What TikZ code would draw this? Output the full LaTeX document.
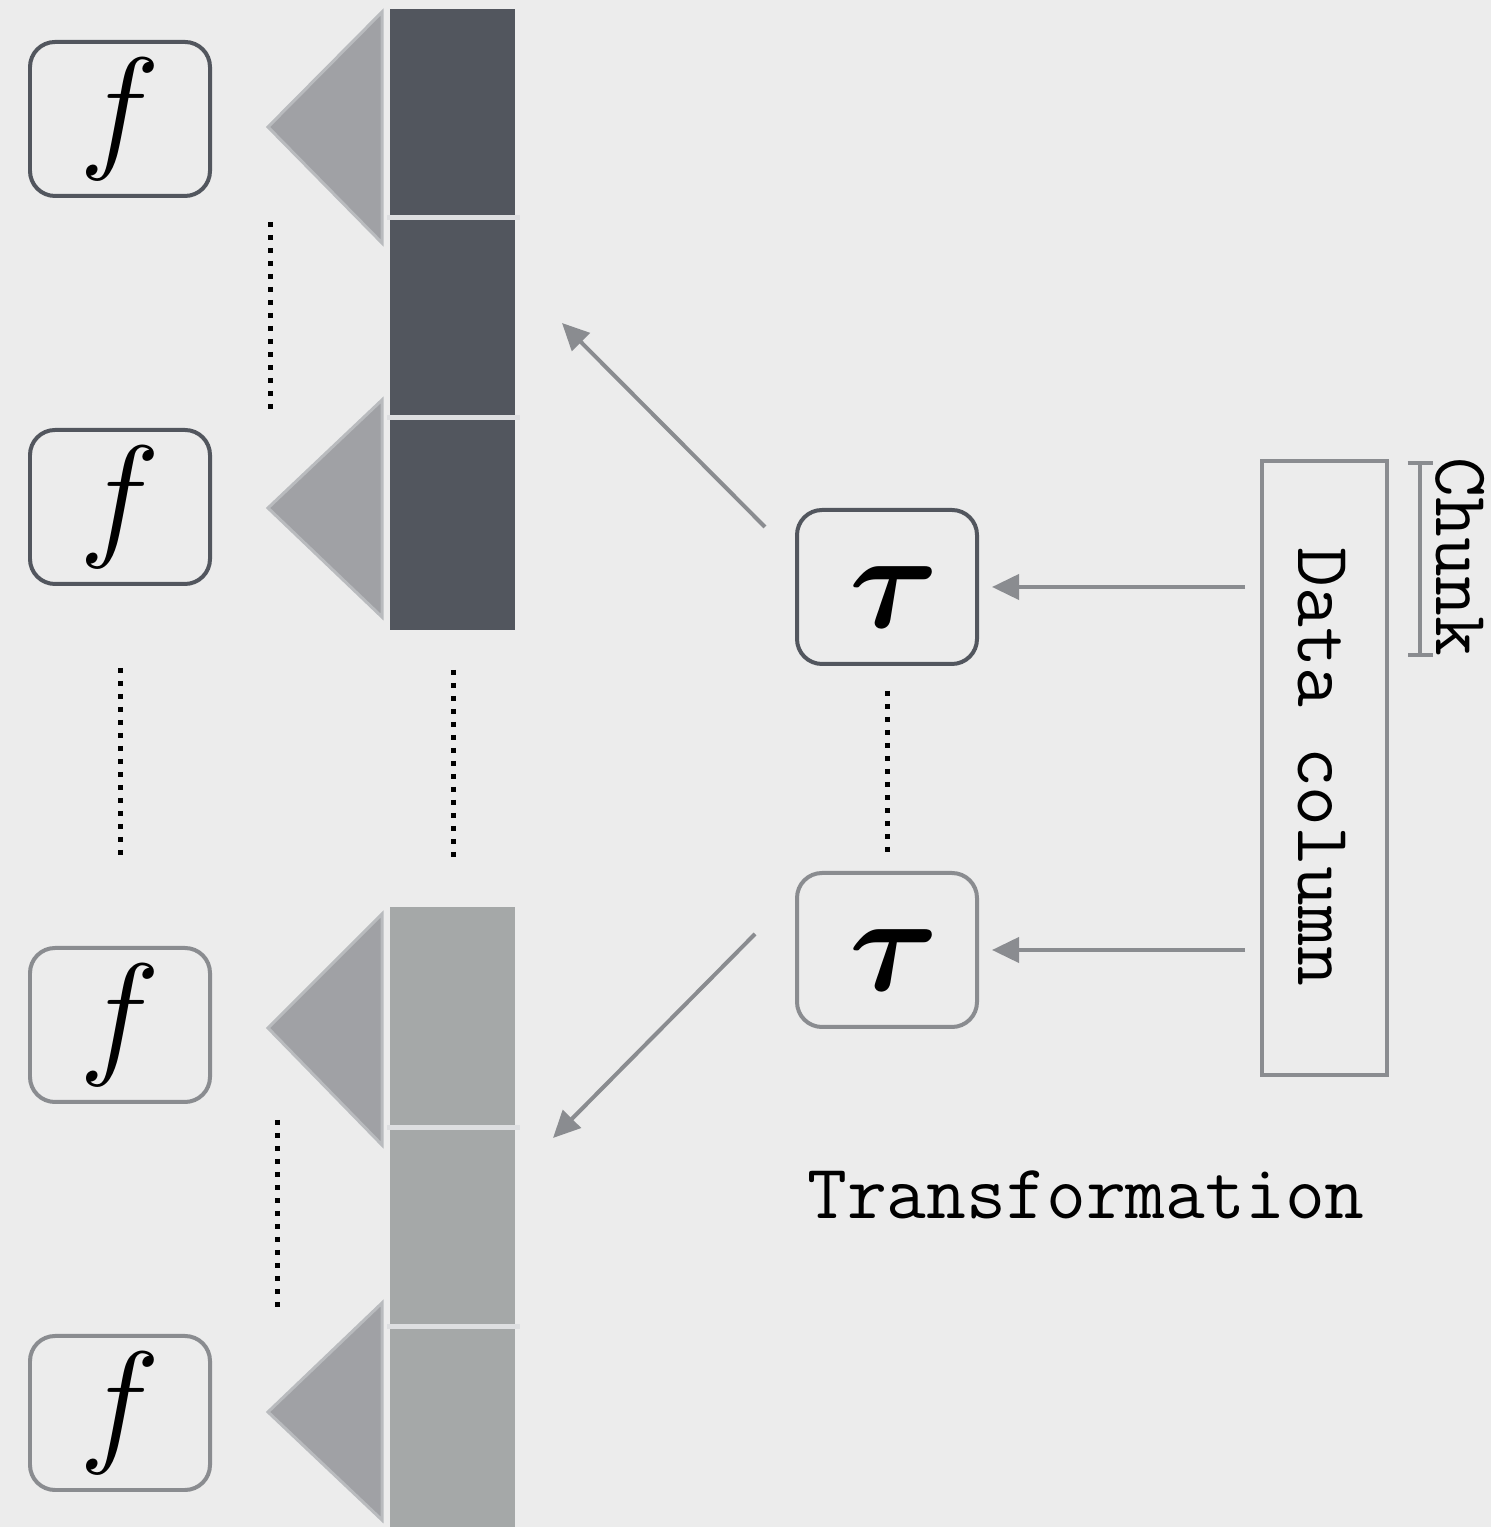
\RequirePackage{fix-cm}
\documentclass[tikz,border=0pt]{standalone}
\usepackage{amsmath}
\usepackage{amssymb}
\usepackage{bm}
\usepackage{xcolor}
\usepackage{tikz}
\usetikzlibrary{positioning, arrows.meta}

\definecolor{bgcol}{HTML}{ECECEC}
\definecolor{boxdark}{HTML}{52565E}
\definecolor{linegrey}{HTML}{8A8C90}
\definecolor{colgrey}{HTML}{A5A8A8}
\definecolor{trifill}{HTML}{A0A1A5}
\definecolor{triedge}{HTML}{B9BBBE}
\definecolor{seplight}{HTML}{DEDFE1}

\newcommand{\taulabel}{\hspace*{0.14cm}\raisebox{-0.1cm}[\height][0pt]{$\bm{\tau}$}}

\begin{document}
\begin{tikzpicture}[
    >={Triangle[length=0.27cm, width=0.25cm]}, line width=0.04cm, node distance=3.88cm, on grid,
    opbox/.style={rectangle, rounded corners=0.25cm, draw=boxdark, fill=bgcol, line width=0.04cm,
        minimum width=1.8cm, minimum height=1.54cm, inner sep=0pt, font=\fontsize{39}{41}\selectfont},
    faded/.style={draw=linegrey},
    flow/.style={->, draw=linegrey, line width=0.04cm},
    dotline/.style={draw=black, line width=0.05cm, dash pattern=on 0.05cm off 0.08cm},
    tri/.style={fill=trifill, draw=triedge, line width=0.03cm},
    sepline/.style={draw=seplight, line width=0.05cm},
    label text/.style={font=\fontsize{22}{24}\selectfont\ttfamily, inner sep=0pt}
]
    % canvas
    \fill[bgcol] (0,0) rectangle (14.91,15.27);
    \useasboundingbox (0,0) rectangle (14.91,15.27);

    % chunked columns
    \fill[boxdark] (3.90,15.18) rectangle (5.15,8.97);
    \fill[colgrey] (3.90,6.20) rectangle (5.15,0);
    \draw[sepline] (3.87,13.09) -- (5.20,13.09);
    \draw[sepline] (3.87,11.09) -- (5.20,11.09);
    \draw[sepline] (3.87,3.99) -- (5.20,3.99);
    \draw[sepline] (3.87,2.00) -- (5.20,2.00);

    % triangles
    \draw[tri] (2.68,14.00) -- (3.82,15.15) -- (3.82,12.84) -- cycle;
    \draw[tri] (2.68,10.19) -- (3.82,11.27) -- (3.82,9.10) -- cycle;
    \draw[tri] (2.68,4.99) -- (3.82,6.13) -- (3.82,3.82) -- cycle;
    \draw[tri] (2.68,1.15) -- (3.82,2.24) -- (3.82,0.07) -- cycle;

    % f boxes
    \node[opbox] (f1) at (1.20,14.08) {$f$};
    \node[opbox] (f2) [below=of f1] {$f$};
    \node[opbox, faded] (f3) [below=5.18cm of f2] {$f$};
    \node[opbox, faded] (f4) [below=of f3] {$f$};

    % tau boxes
    \node[opbox] (tau1) at (8.87,9.40) {\taulabel};
    \node[opbox, faded] (tau2) [below=3.63cm of tau1] {\taulabel};

    % data column and chunk
    \node[draw=linegrey, line width=0.04cm, minimum width=1.25cm, minimum height=6.14cm] (data) at (13.245,7.59) {};
    \node[label text, rotate=-90] (datalabel) at (13.22,7.60) {Data column};
    \draw[linegrey, line width=0.04cm, {Bar[width=0.25cm]}-{Bar[width=0.25cm]}] (14.20,10.66) -- (14.20,8.70);
    \node[label text, rotate=-90] (chunk) at (14.60,9.70) {Chunk};
    \node[label text] (trans) at (10.86,3.32) {Transformation};

    % dots
    \draw[dotline] (2.70,13.05) -- (2.70,11.12);
    \draw[dotline] (1.20,8.59) -- (1.20,6.65);
    \draw[dotline] (4.53,8.57) -- (4.53,6.62);
    \draw[dotline] (2.77,4.07) -- (2.77,2.14);
    \draw[dotline] ([yshift=-0.25cm]tau1.south) -- ([yshift=0.18cm]tau2.north);

    % arrows
    \coordinate (up) at (5.62,12.04);
    \coordinate (down) at (5.53,3.89);
    \draw[flow, shorten <=0.15cm, shorten >=0.13cm] (data.west |- tau1.east) -- (tau1.east);
    \draw[flow, shorten <=0.15cm, shorten >=0.13cm] (data.west |- tau2.east) -- (tau2.east);
    \draw[flow] ([shift={(-0.30,0.60)}]tau1.west) -- (up);
    \draw[flow] ([shift={(-0.40,0.16)}]tau2.west) -- (down);
\end{tikzpicture}
\end{document}
